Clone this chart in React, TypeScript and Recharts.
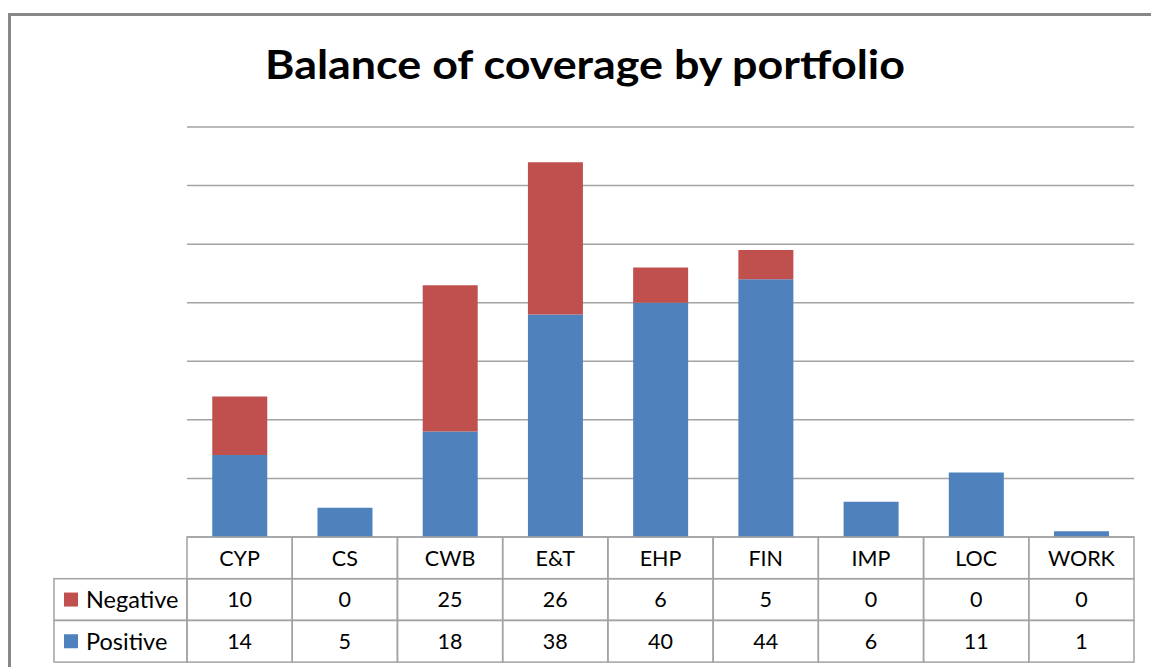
import { BarChart, Bar, XAxis, YAxis, CartesianGrid } from "recharts";

const categories = ["CYP", "CS", "CWB", "E&T", "EHP", "FIN", "IMP", "LOC", "WORK"];
const negative = [10, 0, 25, 26, 6, 5, 0, 0, 0];
const positive = [14, 5, 18, 38, 40, 44, 6, 11, 1];
const yTicks = [0, 10, 20, 30, 40, 50, 60, 70];

const data = categories.map((name, i) => ({
  name,
  Positive: positive[i],
  Negative: negative[i],
}));

const W = 1151;
const H = 667;
const PLOT_LEFT = 187;
const PLOT_RIGHT = 1134;
const PLOT_TOP = 127;
const TABLE_TOP = 537;
const ROW_H = 41.7;
const LEGEND_LEFT = 54;
const CELL_W = (PLOT_RIGHT - PLOT_LEFT) / categories.length;
const FONT = "Lato, 'Open Sans', sans-serif";
const LINE = "#A3A3A3";
const BLUE = "#4F81BD";
const RED = "#C0504D";

// the data table under the plot, one column per x tick
const TableTick = (props: any) => {
  const { x, index } = props;
  const left = x - CELL_W / 2;
  const rows = [categories[index], String(negative[index]), String(positive[index])];

  return (
    <g>
      {rows.map((txt, r) => (
        <g key={r}>
          <rect
            x={left}
            y={TABLE_TOP + r * ROW_H}
            width={CELL_W}
            height={ROW_H}
            fill="none"
            stroke={LINE}
            strokeWidth={1.5}
          />
          <text
            x={x}
            y={TABLE_TOP + r * ROW_H + ROW_H / 2}
            dy="0.36em"
            textAnchor="middle"
            fontFamily={FONT}
            fontSize={21.5}
            fill="#000"
          >
            {txt}
          </text>
        </g>
      ))}
      {index === 0 &&
        [
          { label: "Negative", color: RED },
          { label: "Positive", color: BLUE },
        ].map((s, r) => {
          const top = TABLE_TOP + (r + 1) * ROW_H;
          return (
            <g key={s.label}>
              <rect
                x={LEGEND_LEFT}
                y={top}
                width={left - LEGEND_LEFT}
                height={ROW_H}
                fill="none"
                stroke={LINE}
                strokeWidth={1.5}
              />
              <rect x={64} y={top + ROW_H / 2 - 7} width={14} height={14} fill={s.color} />
              <text
                x={86}
                y={top + ROW_H / 2}
                dy="0.36em"
                fontFamily={FONT}
                fontSize={23.5}
                fill="#000"
              >
                {s.label}
              </text>
            </g>
          );
        })}
    </g>
  );
};

export default function App() {
  return (
    <div style={{ position: "relative", width: W, height: H, overflow: "hidden", background: "#fff" }}>
      <style>{`html,body{margin:0;overflow:hidden;background:#fff}`}</style>
      <div
        style={{
          position: "absolute",
          left: 8,
          top: 13,
          width: 1200,
          height: 720,
          border: "3px solid #878787",
          boxSizing: "border-box",
        }}
      />
      <svg style={{ position: "absolute", left: 0, top: 0 }} width={W} height={100}>
        <text
          x={585}
          y={79}
          textAnchor="middle"
          textLength={640}
          lengthAdjust="spacingAndGlyphs"
          fontFamily={FONT}
          fontWeight={700}
          fontSize={40}
          fill="#000"
        >
          Balance of coverage by portfolio
        </text>
      </svg>
      <div style={{ position: "absolute", left: 0, top: 0 }}>
        <BarChart
          width={W}
          height={H}
          data={data}
          margin={{ top: PLOT_TOP, right: W - PLOT_RIGHT, left: PLOT_LEFT, bottom: 0 }}
          barCategoryGap="24%"
        >
          <CartesianGrid vertical={false} stroke={LINE} strokeWidth={1.5} />
          <XAxis
            dataKey="name"
            height={H - TABLE_TOP}
            axisLine={false}
            tickLine={false}
            interval={0}
            tick={<TableTick />}
          />
          <YAxis hide domain={[0, 70]} ticks={yTicks} width={0} />
          <Bar dataKey="Positive" stackId="a" fill={BLUE} isAnimationActive={false} />
          <Bar dataKey="Negative" stackId="a" fill={RED} isAnimationActive={false} />
        </BarChart>
      </div>
    </div>
  );
}
